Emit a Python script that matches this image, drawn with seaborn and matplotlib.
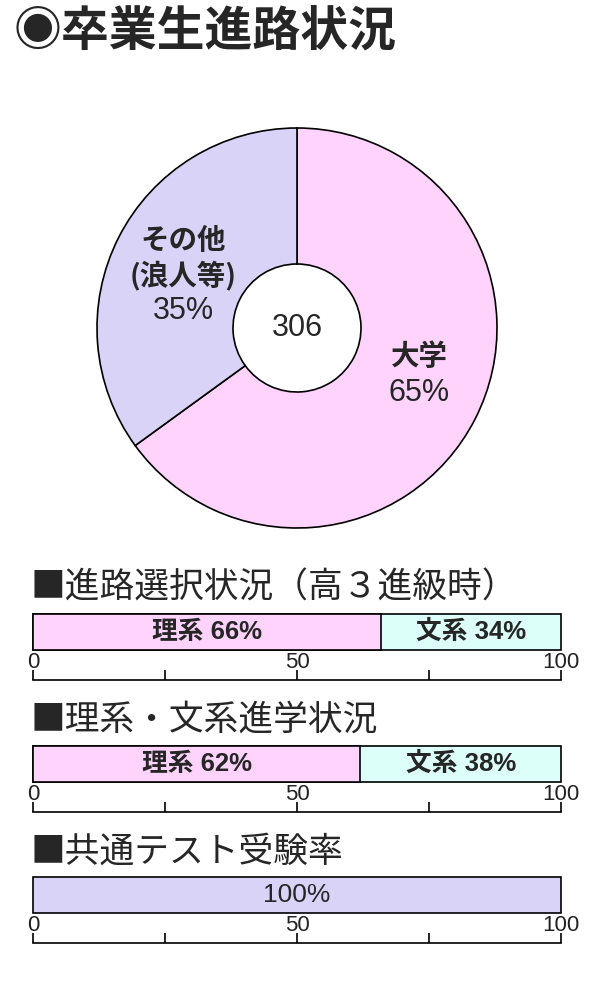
import matplotlib
matplotlib.use('Agg')
import matplotlib.pyplot as plt
import seaborn as sns
import pandas as pd

# data
pie_labels = ['大学', 'その他']
pie_values = [65, 35]
total_students = 306

sections = ['■進路選択状況（高３進級時）', '■理系・文系進学状況', '■共通テスト受験率']
rikei = [66, 62, 100]
bunkei = [34, 38, 0]
scale_ticks = [0, 25, 50, 75, 100]
scale_labels = ['0', '', '50', '', '100']

PINK = '#FFD3FC'
LAV = '#D9D3F7'
CYAN = '#DCFFF9'

sns.set_theme(style='white')
plt.rcParams['font.family'] = ['Noto Sans CJK JP', 'DejaVu Sans']
NUM = ['Liberation Sans', 'Noto Sans CJK JP']
NARROW = ['Liberation Sans Narrow', 'Liberation Sans']

fig = plt.figure(figsize=(6, 10), dpi=100)
W, H = 600, 1000


def px_axes(x0, y0, w, h):
    return fig.add_axes([x0 / W, 1 - (y0 + h) / H, w / W, h / H])


fig.text(14 / W, 1 - 31 / H, '◉卒業生進路状況', fontsize=34.5, fontweight='bold',
         va='center', ha='left')

# donut
cx, cy, r = 297, 328, 200
ax = px_axes(cx - 1.05 * r, cy - 1.05 * r, 2.1 * r, 2.1 * r)
ax.pie(pie_values, colors=[PINK, LAV], startangle=90, counterclock=False,
       radius=1, wedgeprops=dict(width=0.68, edgecolor='black', linewidth=1.2))
ax.set_xlim(-1.05, 1.05)
ax.set_ylim(-1.05, 1.05)
ax.set_aspect('equal')
ax.axis('off')


def to_data(x, y):
    return ((x - cx) / r, -(y - cy) / r)


ax.text(*to_data(297, 328), str(total_students), fontsize=22, family=NUM, ha='center', va='center')
ax.text(*to_data(419, 357), pie_labels[0], fontsize=20.5, fontweight='bold', ha='center', va='center')
ax.text(*to_data(419, 393), f'{pie_values[0]}%', fontsize=22, family=NUM, ha='center', va='center')
ax.text(*to_data(183, 241), pie_labels[1], fontsize=20.5, fontweight='bold', ha='center', va='center')
ax.text(*to_data(183, 275), '(浪人等)', fontsize=20.5, fontweight='bold', ha='center', va='center')
ax.text(*to_data(183, 311), f'{pie_values[1]}%', fontsize=22, family=NUM, ha='center', va='center')

# bars
bar_tops = [614, 746, 877]
heading_y = [588, 720, 852]
for i, title in enumerate(sections):
    fig.text(31 / W, 1 - heading_y[i] / H, title, fontsize=25, va='center', ha='left')

    top = bar_tops[i]
    bax = px_axes(33, top, 528, 36)
    df = pd.DataFrame({'cat': ['x'], 'total': [rikei[i] + bunkei[i]], 'rikei': [rikei[i]]})
    if bunkei[i] > 0:
        sns.barplot(data=df, x='total', y='cat', color=CYAN, orient='h', width=1,
                    edgecolor='black', linewidth=1.2, saturation=1, ax=bax)
        sns.barplot(data=df, x='rikei', y='cat', color=PINK, orient='h', width=1,
                    edgecolor='black', linewidth=1.2, saturation=1, ax=bax)
    else:
        sns.barplot(data=df, x='rikei', y='cat', color=LAV, orient='h', width=1,
                    edgecolor='black', linewidth=1.2, saturation=1, ax=bax)
    for p in bax.patches:
        p.set_clip_on(False)
    bax.set_xlim(0, 100)
    bax.set_ylim(0.5, -0.5)
    bax.axis('off')

    if bunkei[i] > 0:
        bax.text(rikei[i] / 2, 0, f'理系 {rikei[i]}%', fontsize=18.5, fontweight='bold',
                 family=NUM, ha='center', va='center')
        bax.text(rikei[i] + bunkei[i] / 2, 0, f'文系 {bunkei[i]}%', fontsize=18.5,
                 fontweight='bold', family=NUM, ha='center', va='center')
    else:
        bax.text(50, 0, f'{rikei[i]}%', fontsize=19, family=NUM, ha='center', va='center')

    # scale below
    sax = px_axes(33, top + 65, 528, 0.5)
    sax.set_xlim(0, 100)
    sax.set_xticks(scale_ticks)
    sax.set_xticklabels(scale_labels)
    sax.set_yticks([])
    for s in ['top', 'left', 'right']:
        sax.spines[s].set_visible(False)
    sax.spines['bottom'].set_color('black')
    sax.spines['bottom'].set_linewidth(1.2)
    sax.tick_params(axis='x', direction='in', length=7, width=1.2, color='black',
                    bottom=True, top=False, labelbottom=False, labeltop=True, pad=4,
                    labelsize=16, labelcolor='#222222')
    for t in sax.xaxis.get_major_ticks():
        t.label2.set_family(NARROW)
    sax.patch.set_visible(False)

fig.savefig('out.png', dpi=100, facecolor='white')
